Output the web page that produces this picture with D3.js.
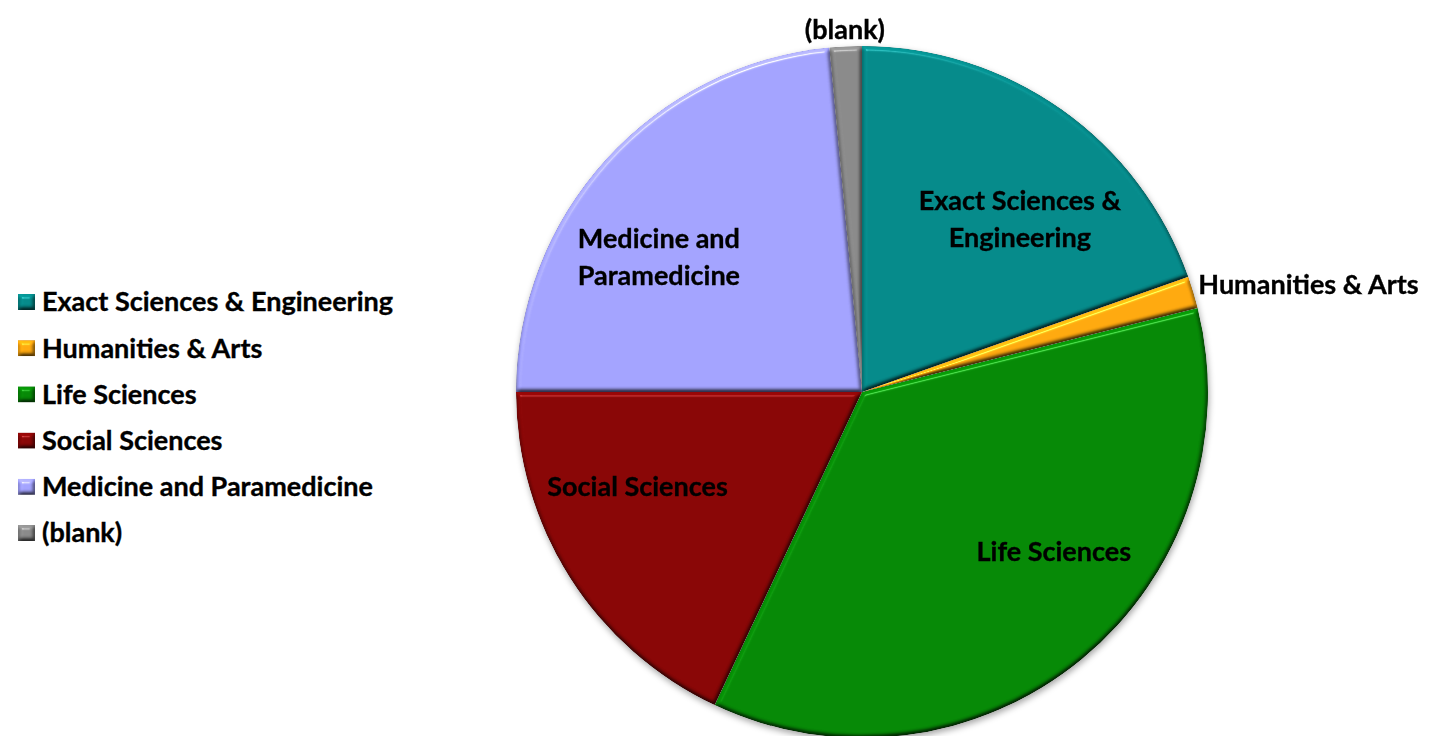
<!DOCTYPE html>
<html>
<head>
<meta charset="utf-8">
<script src="https://cdn.jsdelivr.net/npm/d3@7"></script>
<style>
  html, body { margin: 0; padding: 0; background: #fff; }
  svg { display: block; }
  text { font-family: Lato, "Open Sans", sans-serif; font-weight: 700; fill: #000; stroke: #000; stroke-width: 0.35px; }
</style>
</head>
<body>
<svg id="chart" width="1429" height="736"></svg>
<script>
// Share of projects by scientific field (percent)
const categories = ["Exact Sciences & Engineering", "Humanities & Arts", "Life Sciences",
                    "Social Sciences", "Medicine and Paramedicine", "(blank)"];
const shares = [19.6, 1.5, 35.9, 18.0, 23.5, 1.5];
const colors = ["#058a8a", "#ffa90f", "#068906", "#890606", "#a3a3ff", "#8a8a8a"];

// Label lines and placement (nudges relative to the slice centroid)
const sliceLabels = [
  { lines: ["Exact Sciences &", "Engineering"], k: 0.70, dx: 18, dy: 25, anchor: "middle" },
  { lines: ["Humanities & Arts"], k: 1.0, dx: 5, dy: -8, anchor: "start" },
  { lines: ["Life Sciences"], k: 0.70, dx: 38, dy: -28, anchor: "middle" },
  { lines: ["Social Sciences"], k: 0.70, dx: -20, dy: -35, anchor: "middle" },
  { lines: ["Medicine and", "Paramedicine"], k: 0.70, dx: -24, dy: 28, anchor: "middle" },
  { lines: ["(blank)"], k: 1.05, dx: 0, dy: 0, anchor: "middle" }
];

const W = 1429, H = 736;
const cx = 862, cy = 392, R = 346;
const fontSize = 27;

const svg = d3.select("#chart");
const defs = svg.append("defs");

// Soft round bevel for slices and legend keys
const bevel = defs.append("filter").attr("id", "bevel")
  .attr("color-interpolation-filters", "sRGB")
  .attr("x", "-5%").attr("y", "-5%").attr("width", "110%").attr("height", "110%");
bevel.append("feGaussianBlur").attr("in", "SourceAlpha").attr("stdDeviation", 2.2).attr("result", "blur");
const diff = bevel.append("feDiffuseLighting").attr("in", "blur").attr("surfaceScale", 3)
  .attr("diffuseConstant", 1).attr("lighting-color", "#fff").attr("result", "diff");
diff.append("feDistantLight").attr("azimuth", 250).attr("elevation", 60);
bevel.append("feComposite").attr("in", "SourceGraphic").attr("in2", "diff")
  .attr("operator", "arithmetic").attr("k1", 1.155).attr("k2", 0).attr("k3", 0).attr("k4", 0)
  .attr("result", "lit");
const spec = bevel.append("feSpecularLighting").attr("in", "blur").attr("surfaceScale", 3)
  .attr("specularConstant", 0.7).attr("specularExponent", 120).attr("lighting-color", "#fff")
  .attr("result", "spec");
spec.append("feDistantLight").attr("azimuth", 250).attr("elevation", 60);
bevel.append("feComposite").attr("in", "spec").attr("in2", "SourceAlpha").attr("operator", "in").attr("result", "specIn");
bevel.append("feComposite").attr("in", "lit").attr("in2", "specIn")
  .attr("operator", "arithmetic").attr("k1", 0).attr("k2", 1).attr("k3", 0.4).attr("k4", 0)
  .attr("result", "out");
bevel.append("feComposite").attr("in", "out").attr("in2", "SourceAlpha").attr("operator", "in");

// Outer shadow under the whole pie
const shadow = defs.append("filter").attr("id", "shadow")
  .attr("color-interpolation-filters", "sRGB")
  .attr("x", "-10%").attr("y", "-10%").attr("width", "120%").attr("height", "120%");
shadow.append("feDropShadow").attr("dx", 1).attr("dy", 3).attr("stdDeviation", 3)
  .attr("flood-color", "#000").attr("flood-opacity", 0.35);

const pie = d3.pie().sort(null).value(d => d)(shares);
const arc = d3.arc().innerRadius(0).outerRadius(R);

const pieG = svg.append("g").attr("transform", `translate(${cx},${cy})`);
const shadowG = pieG.append("g").attr("filter", "url(#shadow)");
shadowG.selectAll("path.slice").data(pie).join("path")
  .attr("class", "slice")
  .attr("d", arc)
  .attr("fill", (d, i) => colors[i])
  .attr("filter", "url(#bevel)");

// Slice labels
pie.forEach((d, i) => {
  const cfg = sliceLabels[i];
  const rr = R * cfg.k;
  const c = d3.arc().innerRadius(rr).outerRadius(rr).centroid(d);
  const x = c[0] + cfg.dx, y = c[1] + cfg.dy;
  const lh = 37;
  const t = pieG.append("text")
    .attr("x", x).attr("y", y)
    .attr("text-anchor", cfg.anchor)
    .attr("font-size", fontSize);
  cfg.lines.forEach((ln, j) => {
    t.append("tspan").attr("x", x)
      .attr("y", y + (j - (cfg.lines.length - 1) / 2) * lh)
      .attr("dy", "0.35em")
      .text(ln);
  });
});

// Legend
const legendY = d3.scalePoint().domain(categories).range([302, 533]);
const legend = svg.append("g");
const items = legend.selectAll("g").data(categories).join("g")
  .attr("transform", d => `translate(18,${legendY(d)})`);
items.append("rect")
  .attr("x", 0).attr("y", -8).attr("width", 17).attr("height", 16)
  .attr("fill", (d, i) => colors[i])
  .attr("filter", "url(#bevel)");
items.append("text")
  .attr("x", 24).attr("y", 0).attr("dy", "0.35em")
  .attr("font-size", fontSize)
  .text(d => d);
</script>
</body>
</html>
